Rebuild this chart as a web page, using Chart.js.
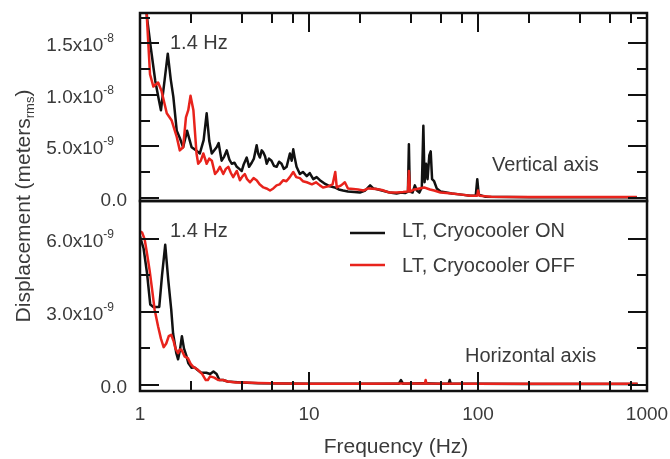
<!DOCTYPE html>
<html>
<head>
<meta charset="utf-8">
<script src="https://cdn.jsdelivr.net/npm/chart.js@4.4.0/dist/chart.umd.min.js"></script>
<style>
    html, body { margin: 0; padding: 0; background: #fff; }
    #wrap { width: 670px; height: 459px; }
</style>
</head>
<body>
<div id="wrap"><canvas id="chart" width="670" height="459"></canvas></div>
<script>
// ==================== Data (displacement in units of 1e-9 m) ====================

// Vertical axis, cryocooler ON
const freqOnV = [1.0, 1.1, 1.16, 1.23, 1.29, 1.33, 1.40, 1.46, 1.52, 1.575, 1.65, 1.72, 1.80, 1.90, 2.02, 2.15, 2.26, 2.38, 2.48, 2.57,
    2.66, 2.84, 2.92, 3.04, 3.15, 3.26, 3.38, 3.49, 3.62, 3.74, 3.87, 4.0, 4.1, 4.28, 4.42, 4.58, 4.72, 4.9, 5.0, 5.12,
    5.25, 5.37, 5.5, 5.62, 5.8, 6.0, 6.2, 6.43, 6.65, 6.88, 7.1, 7.37, 7.71, 7.9, 8.07, 8.25, 8.44, 8.83, 9.2, 9.7,
    10.1, 10.6, 11.1, 11.6, 12.3, 13.3, 14.2, 15.0, 15.9, 17.0, 18.5, 20, 21.5, 23, 24, 25, 27, 30, 33, 35,
    37, 38.5, 39, 39.5, 41, 42.3, 43.5, 45, 46.5, 47.5, 48.3, 49.3, 50.3, 51.5, 52.5, 53.5, 55, 57, 60, 65,
    70, 80, 90, 97, 99, 101, 110, 150, 200, 400, 870];
const dispOnV = [30, 17.5, 14.5, 11.4, 9.6, 8.5, 11.5, 14.0, 11.5, 9.8, 6.5, 5.8, 4.9, 6.5, 4.9, 4.6, 4.3, 5.6, 8.2, 5.5,
    4.3, 4.9, 5.3, 3.6, 4.0, 4.6, 3.7, 3.3, 3.4, 3.0, 2.8, 2.6, 3.2, 3.9, 3.0, 3.4, 3.8, 5.1, 4.3, 3.9,
    4.6, 4.4, 4.0, 3.3, 3.8, 3.6, 3.1, 3.0, 3.5, 3.3, 2.8, 3.0, 4.3, 3.6, 4.7, 3.8, 3.0, 2.3, 2.5, 2.1,
    2.4, 1.8, 2.0, 1.7, 1.4, 1.1, 1.0, 0.8, 0.7, 0.6, 0.55, 0.5, 0.7, 1.2, 0.9, 0.85, 0.7, 0.5, 0.4, 0.5,
    0.45, 0.6, 5.2, 0.6, 0.5, 1.2, 0.7, 0.5, 1.0, 7.0, 1.5, 3.3, 1.8, 4.1, 4.5, 1.8, 1.6, 0.9, 0.6, 0.5,
    0.4, 0.3, 0.2, 0.2, 1.8, 0.3, 0.1, 0.08, 0.05, 0.05, 0.05];

// Vertical axis, cryocooler OFF
const freqOffV = [1.0, 1.095, 1.146, 1.2, 1.28, 1.34, 1.44, 1.54, 1.65, 1.72, 1.80, 1.87, 1.93, 1.99, 2.07, 2.16, 2.21, 2.29, 2.37, 2.48,
    2.57, 2.66, 2.78, 2.88, 2.97, 3.11, 3.22, 3.33, 3.45, 3.56, 3.74, 3.9, 4.05, 4.17, 4.3, 4.48, 4.7, 4.9, 5.1, 5.37,
    5.6, 5.88, 6.15, 6.43, 6.7, 7.05, 7.35, 7.7, 8.07, 8.4, 8.83, 9.2, 9.7, 10.4, 11, 11.6, 12.1, 13, 13.8, 14.3,
    14.6, 15.5, 16.3, 17, 18.3, 19.5, 21, 22.5, 25, 27, 30, 33, 36, 38.5, 39, 39.6, 42, 45, 48, 50,
    52, 55, 60, 65, 70, 80, 90, 99, 100, 102, 120, 200, 400, 870];
const dispOffV = [30, 17.9, 12.0, 10.8, 11.2, 10.4, 8.2, 7.5, 5.9, 4.6, 4.9, 7.8, 8.5, 9.9, 8.5, 4.3, 3.3, 3.6, 4.3, 3.3,
    3.8, 3.6, 2.3, 2.6, 3.0, 2.3, 2.8, 3.0, 2.4, 2.0, 2.6, 1.7, 2.1, 2.3, 1.8, 1.5, 1.9, 1.7, 1.3, 1.0,
    0.9, 0.7, 0.9, 1.2, 1.3, 1.7, 1.6, 2.0, 2.5, 2.0, 1.9, 1.6, 1.5, 1.3, 1.5, 1.2, 1.0, 1.1, 1.3, 2.5,
    1.0, 1.2, 1.5, 0.9, 0.85, 0.8, 0.7, 0.9, 0.85, 0.75, 0.5, 0.5, 0.55, 0.6, 2.6, 0.6, 0.8, 0.9, 1.0, 0.9,
    0.8, 0.7, 0.5, 0.45, 0.4, 0.3, 0.2, 0.2, 0.7, 0.2, 0.1, 0.07, 0.06, 0.06];

// Horizontal axis, cryocooler ON
const freqOnH = [1.0, 1.05, 1.1, 1.15, 1.2, 1.3, 1.35, 1.41, 1.47, 1.53, 1.57, 1.64, 1.68, 1.72, 1.77, 1.82, 1.88, 1.93, 2.02, 2.1,
    2.2, 2.3, 2.47, 2.6, 2.72, 2.84, 2.95, 3.1, 3.3, 3.6, 4, 5, 7, 10, 20, 34, 35, 36, 47, 60,
    67, 68, 69, 100, 200, 400, 880];
const dispOnH = [6.1, 5.6, 4.6, 3.3, 3.2, 3.2, 4.5, 5.75, 4.3, 3.1, 2.1, 1.3, 1.05, 1.4, 2.0, 1.5, 1.2, 0.9, 0.7, 0.72,
    0.6, 0.5, 0.5, 0.45, 0.55, 0.45, 0.2, 0.2, 0.14, 0.12, 0.1, 0.07, 0.06, 0.05, 0.05, 0.05, 0.2, 0.05, 0.07, 0.05,
    0.05, 0.2, 0.05, 0.05, 0.04, 0.04, 0.04];

// Horizontal axis, cryocooler OFF
const freqOffH = [1.0, 1.03, 1.066, 1.1, 1.14, 1.18, 1.22, 1.28, 1.33, 1.38, 1.43, 1.48, 1.53, 1.58, 1.62, 1.68, 1.72, 1.76, 1.84, 1.92,
    2.0, 2.06, 2.2, 2.33, 2.45, 2.52, 2.6, 2.75, 2.9, 3.1, 3.3, 3.7, 4.2, 5, 7, 10, 20, 40, 48.5, 49,
    49.5, 100, 200, 400, 880];
const dispOffH = [6.3, 6.25, 5.97, 5.4, 4.7, 3.9, 3.1, 2.4, 1.9, 1.55, 1.7, 2.0, 2.06, 1.8, 1.5, 1.3, 1.45, 1.44, 1.16, 1.1,
    0.85, 0.75, 0.62, 0.45, 0.2, 0.2, 0.35, 0.3, 0.2, 0.2, 0.14, 0.1, 0.1, 0.08, 0.06, 0.05, 0.05, 0.06, 0.06, 0.2,
    0.06, 0.05, 0.05, 0.05, 0.05];

// Axis ticks
const xTickValues = [1, 10, 100, 1000];
const xTickLabels = ['1', '10', '100', '1000'];
const vTickValues = [0, 5, 10, 15];
const vTickLabels = [['0.0', ''], ['5.0x10', '-9'], ['1.0x10', '-8'], ['1.5x10', '-8']];
const vMinorTicks = [2.5, 7.5, 12.5, 17.5];
const hTickValues = [0, 3, 6];
const hTickLabels = [['0.0', ''], ['3.0x10', '-9'], ['6.0x10', '-9']];
const hMinorTicks = [1.5, 4.5];

const seriesNames = ['LT, Cryocooler ON', 'LT, Cryocooler OFF'];

// ==================== Styles ====================

const FONT = '"Liberation Sans", Arial, sans-serif';
const TEXT_COLOR = '#3a3a3a';
const AXIS_COLOR = '#111';
const ON_COLOR = '#111';
const OFF_COLOR = '#e8231c';

function toPoints(freqs, values) {
    return freqs.map((f, i) => ({ x: f, y: values[i] }));
}

const hiddenAxis = {
    ticks: { display: false },
    grid: { display: false, drawTicks: false },
    border: { display: false }
};

// ==================== Decorations (frames, inner ticks, text) ====================

const decorations = {
    id: 'decorations',
    afterDatasetsDraw(chart) {
        const ctx = chart.ctx;
        const xs = chart.scales.x;
        const yT = chart.scales.yTop;
        const yB = chart.scales.yBot;
        const left = chart.chartArea.left;
        const right = chart.chartArea.right;

        ctx.save();
        ctx.strokeStyle = AXIS_COLOR;
        ctx.lineWidth = 2.5;
        ctx.lineCap = 'butt';

        // panel frames
        [yT, yB].forEach(s => ctx.strokeRect(left, s.top, right - left, s.bottom - s.top));

        function line(x1, y1, x2, y2) {
            ctx.beginPath();
            ctx.moveTo(x1, y1);
            ctx.lineTo(x2, y2);
            ctx.stroke();
        }

        // y ticks, pointing inward on both sides
        ctx.lineWidth = 2;
        function yTicks(scale, majors, minors) {
            majors.forEach(v => {
                const py = Math.round(scale.getPixelForValue(v));
                line(left, py, left + 19, py);
                line(right, py, right - 19, py);
            });
            minors.forEach(v => {
                const py = Math.round(scale.getPixelForValue(v));
                line(left, py, left + 10, py);
                line(right, py, right - 10, py);
            });
        }
        yTicks(yT, vTickValues, vMinorTicks);
        yTicks(yB, hTickValues, hMinorTicks);

        // x ticks: top of upper panel and bottom of lower panel
        for (let d = 1; d < 1000; d *= 10) {
            [2, 4, 6, 8].forEach(m => {
                const px = Math.round(xs.getPixelForValue(d * m));
                line(px, yT.top, px, yT.top + 10);
                line(px, yB.bottom, px, yB.bottom - 10);
            });
        }
        xTickValues.forEach(v => {
            const px = Math.round(xs.getPixelForValue(v));
            line(px, yT.top, px, yT.top + 19);
            line(px, yB.bottom, px, yB.bottom - 19);
        });

        ctx.fillStyle = TEXT_COLOR;

        // y tick labels with superscript exponent
        function yLabels(scale, values, labels) {
            values.forEach((v, i) => {
                const py = scale.getPixelForValue(v);
                const base = labels[i][0];
                const sup = labels[i][1];
                ctx.font = '19px ' + FONT;
                const wb = ctx.measureText(base).width;
                ctx.font = '12px ' + FONT;
                const ws = ctx.measureText(sup).width;
                const endX = sup ? left - 26 : left - 13;
                const x0 = endX - wb - ws;
                ctx.textAlign = 'left';
                ctx.textBaseline = 'alphabetic';
                ctx.font = '19px ' + FONT;
                ctx.fillText(base, x0, py + 8);
                if (sup) {
                    ctx.font = '12px ' + FONT;
                    ctx.fillText(sup, x0 + wb, py - 1);
                }
            });
        }
        yLabels(yT, vTickValues, vTickLabels);
        yLabels(yB, hTickValues, hTickLabels);

        // x tick labels
        ctx.font = '19px ' + FONT;
        ctx.textAlign = 'center';
        xTickValues.forEach((v, i) => {
            ctx.fillText(xTickLabels[i], xs.getPixelForValue(v), 420);
        });

        // x title
        ctx.font = '21px ' + FONT;
        ctx.fillText('Frequency (Hz)', 396, 453);

        // y title with subscript
        ctx.save();
        ctx.translate(30, 206);
        ctx.rotate(-Math.PI / 2);
        const parts = [['Displacement (meters', '21px', 0], ['rms', '13px', 4], [')', '21px', 0]];
        let total = 0;
        parts.forEach(p => { ctx.font = p[1] + ' ' + FONT; total += ctx.measureText(p[0]).width; });
        let cx = -total / 2;
        ctx.textAlign = 'left';
        parts.forEach(p => {
            ctx.font = p[1] + ' ' + FONT;
            ctx.fillText(p[0], cx, p[2]);
            cx += ctx.measureText(p[0]).width;
        });
        ctx.restore();

        // annotations
        ctx.font = '20px ' + FONT;
        ctx.textAlign = 'left';
        ctx.fillText('1.4 Hz', 170, 49);
        ctx.fillText('1.4 Hz', 170, 237);
        ctx.fillText('Vertical axis', 492, 171);
        ctx.fillText('Horizontal axis', 465, 362);

        // legend
        ctx.lineWidth = 2.5;
        ctx.strokeStyle = ON_COLOR;
        line(350, 233, 385, 233);
        ctx.strokeStyle = OFF_COLOR;
        line(350, 265, 385, 265);
        ctx.fillText(seriesNames[0], 402, 237);
        ctx.fillText(seriesNames[1], 402, 272);

        ctx.restore();
    }
};

// ==================== Chart ====================

document.addEventListener('DOMContentLoaded', function () {
    const lineStyle = { borderWidth: 2.5, pointRadius: 0, tension: 0, fill: false, borderJoinStyle: 'round' };

    new Chart(document.getElementById('chart'), {
        type: 'line',
        data: {
            datasets: [
                { ...lineStyle, label: seriesNames[1], data: toPoints(freqOffV, dispOffV), borderColor: OFF_COLOR, yAxisID: 'yTop' },
                { ...lineStyle, label: seriesNames[1], data: toPoints(freqOffH, dispOffH), borderColor: OFF_COLOR, yAxisID: 'yBot' },
                { ...lineStyle, label: seriesNames[0], data: toPoints(freqOnV, dispOnV), borderColor: ON_COLOR, yAxisID: 'yTop' },
                { ...lineStyle, label: seriesNames[0], data: toPoints(freqOnH, dispOnH), borderColor: ON_COLOR, yAxisID: 'yBot' }
            ]
        },
        options: {
            responsive: false,
            animation: false,
            layout: { padding: { left: 140, right: 23, top: 13, bottom: 68 } },
            plugins: {
                legend: { display: false },
                tooltip: { enabled: false }
            },
            scales: {
                x: { type: 'logarithmic', min: 1, max: 1000, ...hiddenAxis },
                yBot: { type: 'linear', position: 'left', stack: 'panels', stackWeight: 190, min: -0.25, max: 7.55, ...hiddenAxis },
                yTop: { type: 'linear', position: 'left', stack: 'panels', stackWeight: 188, min: -0.32, max: 17.95, ...hiddenAxis }
            }
        },
        plugins: [decorations]
    });
});
</script>
</body>
</html>
